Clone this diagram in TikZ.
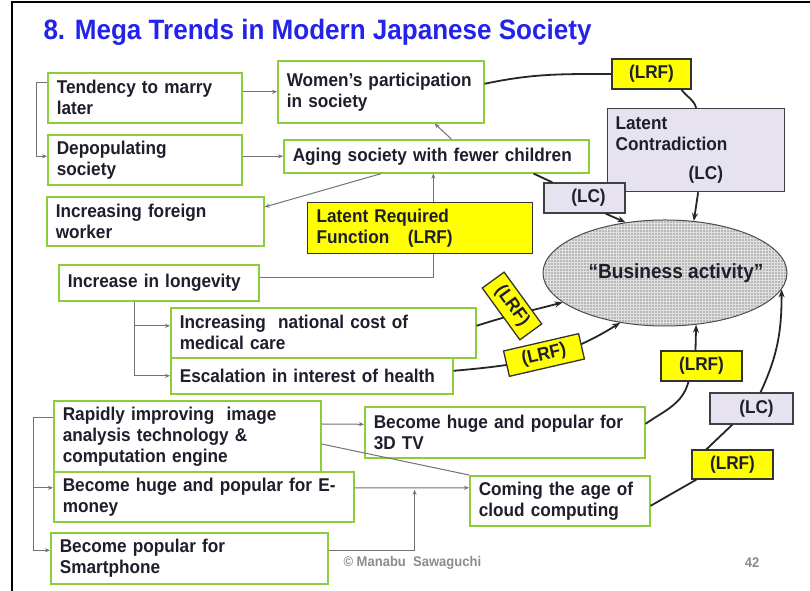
\documentclass[tikz,border=0pt]{standalone}
\usepackage{fontspec}
\setmainfont{Liberation Sans}[FakeStretch=0.93]
\usetikzlibrary{arrows.meta,shapes.geometric,patterns}

\definecolor{trendgreen}{RGB}{140,205,60}
\definecolor{titleblue}{RGB}{35,35,235}
\definecolor{lrfyellow}{RGB}{255,255,0}
\definecolor{lcfill}{RGB}{230,226,240}
\definecolor{textdark}{RGB}{30,30,45}

\newcommand{\boxfont}{\bfseries\fontsize{18.5bp}{21bp}\selectfont}

\tikzset{
  trend/.style={draw=trendgreen, line width=1.6bp, fill=white, anchor=north west, align=left,
    inner xsep=9bp, inner ysep=2bp, text=textdark, font=\boxfont},
  lrf/.style={draw=black!80, line width=1.3bp, fill=lrfyellow, inner sep=0bp, text=textdark, font=\boxfont},
  lc/.style={draw=black!75, line width=1.3bp, fill=lcfill, inner sep=0bp, text=textdark, font=\boxfont},
  gline/.style={draw=black!55, line width=1bp, -{Stealth[length=5bp,width=4bp]}},
  dline/.style={draw=black!85, line width=1.8bp, -{Stealth[length=8bp,width=6bp]}}
}

\begin{document}
\begin{tikzpicture}[x=1bp, y=1bp]
    \fill[white] (0,0) rectangle (810,591);
    \useasboundingbox (0,0) rectangle (810,591);
    \draw[line width=2bp] (12,0) -- (12,589) -- (810,589);

    \node[anchor=base west, text=titleblue, font=\bfseries\fontsize{28bp}{32bp}\selectfont] (title) at (40,551) {8. Mega Trends in Modern Japanese Society};

    \node[trend, text width=176bp, minimum height=50bp] (tend) at (47,519) {Tendency to marry\\later};
    \node[trend, text width=188bp, minimum height=62bp] (wom) at (277,531) {Women's participation\\in society};
    \node[trend, text width=176bp, minimum height=50bp] (depop) at (47,457) {Depopulating\\society};
    \node[trend, text width=287bp, minimum height=33bp] (aging) at (283,452) {Aging society with fewer children};
    \node[trend, text width=199bp, minimum height=49bp] (foreign) at (46,395) {Increasing foreign\\worker};
    \node[trend, text width=182bp, minimum height=36bp] (longev) at (58,327) {Increase in longevity};
    \node[trend, text width=287bp, minimum height=50bp] (medcost) at (170,284) {Increasing~ national cost of\\medical care};
    \node[trend, text width=264bp, minimum height=36bp] (health) at (170,234) {Escalation in interest of health};
    \node[trend, text width=249bp, minimum height=72bp] (rapid) at (53,191) {Rapidly improving~ image\\analysis technology \&\\computation engine};
    \node[trend, text width=262bp, minimum height=51bp] (tv) at (364,185) {Become huge and popular for\\3D TV};
    \node[trend, text width=282bp, minimum height=50bp] (emoney) at (53,120) {Become huge and popular for E-\\money};
    \node[trend, text width=162bp, minimum height=50bp] (cloud) at (469,116) {Coming the age of\\cloud computing};
    \node[trend, text width=259bp, minimum height=51bp] (smart) at (50,59) {Become popular for\\Smartphone};

    \node[ellipse, draw=black!70, line width=1bp, preaction={fill=black!28}, pattern=grid, pattern color=black!12,
      minimum width=244bp, minimum height=106bp, inner sep=0bp, text=textdark,
      font=\bfseries\fontsize{20.5bp}{24bp}\selectfont] (busi) at (665,318) {\makebox[0pt]{\hspace*{22bp}“Business activity”}};

    \node[lc, anchor=north west, align=left, inner xsep=8bp, text width=161bp, minimum height=83bp] (lcbig) at (607,483) {Latent\\Contradiction\\[8bp]\hspace*{73bp}(LC)};
    \node[lrf, minimum width=79bp, minimum height=30bp] (lrftop) at (651.5,517) {(LRF)};
    \node[lc, minimum width=81bp, minimum height=30bp] (lcsmall) at (584.5,393) {\hspace*{8bp}(LC)};
    \node[lrf, minimum width=81bp, minimum height=30bp] (lrfc) at (701.5,225) {(LRF)};
    \node[lc, minimum width=83bp, minimum height=31bp] (lcright) at (751.5,182.5) {\hspace*{10bp}(LC)};
    \node[lrf, minimum width=81bp, minimum height=29bp] (lrfd) at (732.5,126.5) {(LRF)};

    \draw[gline] ([xshift=76bp]longev.south west) |- ([yshift=7bp]medcost.west);
    \draw[gline] ([xshift=76bp]longev.south west) |- (health.west);
    \draw[gline] ([yshift=5bp]longev.east) -| ([xshift=-3bp]aging.south);
    \node[lrf, anchor=north west, align=left, inner xsep=9bp, text width=207bp, minimum height=51bp] (lrfbig) at (307,389) {Latent Required\\Function~~ (LRF)};

    \draw[gline] ([yshift=-11bp]tend.north west) -- ++(-11,0) |- (depop.west |- aging.west);
    \draw[gline] (tend.east |- wom.west) -- (wom.west);
    \draw[gline] (depop.east |- aging.west) -- (aging.west);
    \draw[gline] ([xshift=15bp]aging.north) -- ([xshift=-50bp]wom.south east);
    \draw[gline] ([xshift=-55bp]aging.south) -- ([yshift=-11bp]foreign.north east);

    \draw[gline] ([yshift=-18bp]rapid.north west) -- ++(-20,0) |- ([yshift=9bp]emoney.west);
    \draw[gline] ([yshift=-18bp]rapid.north west) -- ++(-20,0) |- ([yshift=8bp]smart.west);
    \draw[gline] ([yshift=-24bp]rapid.north east) -- ([yshift=8bp]tv.west);
    \draw[draw=black!55, line width=1bp] ([yshift=-44bp]rapid.north east) -- (cloud.north west);
    \draw[gline] ([yshift=9bp]emoney.east) -- ([yshift=13bp]cloud.west);
    \draw[gline] ([yshift=8bp]smart.east) -| ([xshift=60bp,yshift=7bp]emoney.east);

    \draw[dline, -] ([yshift=8bp]wom.east) to[out=12, in=180] (lrftop.west);
    \draw[dline, -] ([xshift=30bp]lrftop.south) to[out=-55, in=105] (lcbig.north);
    \draw[dline, -] ([xshift=-56bp]aging.south east) -- ([xshift=9bp]lcsmall.north west);
    \draw[dline] ([xshift=-20bp]lcsmall.south east) -- (busi.128);
    \draw[dline] ([xshift=2bp]lcbig.south) -- (busi.61);

    \draw[dline] ([yshift=7bp]medcost.east) to[out=18, in=195] (busi.196);
    \draw[dline] ([yshift=5bp]health.east) to[out=5, in=212] (busi.228);
    \node[lrf, rotate=-54, minimum width=64bp, minimum height=27bp] (lrfa) at (512,285) {(LRF)};
    \node[lrf, rotate=13, minimum width=77bp, minimum height=26bp] (lrfb) at (544,236) {(LRF)};

    \draw[dline, -] ([yshift=8.5bp]tv.east) to[out=35, in=-105] ([xshift=-13bp]lrfc.south);
    \draw[dline] ([xshift=-6bp]lrfc.north) -- (busi.301);
    \draw[dline, -] ([yshift=-5bp]cloud.east) -- ([xshift=5bp]lrfd.south west);
    \draw[dline, -] ([xshift=15bp]lrfd.north west) -- ([xshift=23bp]lcright.south west);
    \draw[dline] ([xshift=9bp]lcright.north) to[out=65, in=-90] (busi.352);

    \node[anchor=west, text=black!45, font=\bfseries\fontsize{14bp}{16bp}\selectfont] (copy) at (340,28) {© Manabu~ Sawaguchi};
    \node[text=black!45, font=\bfseries\fontsize{14bp}{16bp}\selectfont] (page) at (752,28) {42};
\end{tikzpicture}
\end{document}
